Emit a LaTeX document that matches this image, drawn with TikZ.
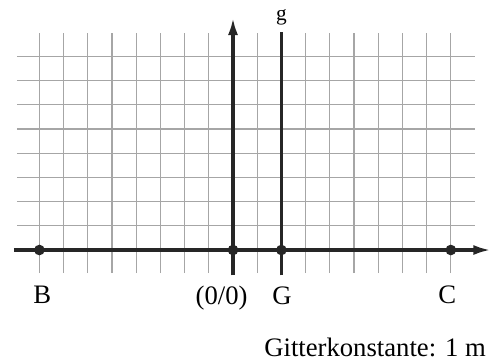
\documentclass[tikz,border=0pt]{standalone}
\usepackage{fontspec}
\setmainfont{Liberation Serif}
\usetikzlibrary{arrows.meta}
\begin{document}
\begin{tikzpicture}[x=18.15pt,y=18.15pt,
  gridline/.style={draw=black!35, line width=1pt},
  axisline/.style={draw=black!85, line width=2.4pt},
  arrowaxis/.style={axisline, -{Latex[length=13pt,width=7.5pt]}},
  dotmark/.style={circle, fill=black!85, inner sep=0pt, minimum size=8pt},
  lbl/.style={font=\fontsize{20}{24}\selectfont, anchor=base, inner sep=0pt}]
\useasboundingbox (-9.628,-4.669) rectangle (10.702,10.331);
% grid
\foreach \i in {-8,...,9} {\draw[gridline] (\i,-0.95) -- (\i,8.97);}
\foreach \j in {1,...,8} {\draw[gridline] (-8.93,\j) -- (10.0,\j);}
% coordinates
\coordinate (xs) at (-9.05,0);
\coordinate (xe) at (10.65,0);
\coordinate (ys) at (0,-1.05);
\coordinate (ye) at (0,9.6);
\coordinate (gs) at (2,-1.05);
\coordinate (ge) at (2,9.0);
% axes
\draw[arrowaxis] (xs) -- (xe);
\draw[arrowaxis] (ys) -- (ye);
\draw[axisline, line width=2.8pt] (gs) -- (ge);
% points
\node[dotmark] (B) at (-8,0) {};
\node[dotmark] (O) at (0,0) {};
\node[dotmark] (G) at (2,0) {};
\node[dotmark] (C) at (9,0) {};
% labels
\node[lbl] (lB) at (-7.88,-2.2) {B};
\node[lbl] (lO) at (-0.47,-2.25) {(0/0)};
\node[lbl] (lG) at (2.02,-2.25) {G};
\node[lbl] (lC) at (8.85,-2.2) {C};
\node[lbl, font=\fontsize{16}{19}\selectfont] (lg) at (2,9.5) {g};
\node[lbl] (cap) at (5.87,-4.42) {Gitterkonstante: 1 m};
\end{tikzpicture}
\end{document}
